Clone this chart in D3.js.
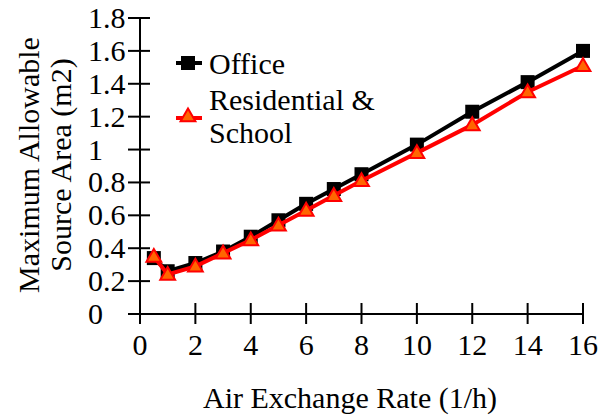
<!DOCTYPE html>
<html lang="en">
<head>
  <meta charset="UTF-8">
  <title>Maximum Allowable Source Area</title>
  <style>
    body { margin: 0; background: #fff; }
  </style>
</head>
<body>
  <svg width="601" height="417"></svg>
  <script src="https://d3js.org/d3.v7.min.js"></script>
  <script>

  var rates = [0.5, 1, 2, 3, 4, 5, 6, 7, 8, 10, 12, 14, 16];
  var office = [0.34, 0.26, 0.31, 0.38, 0.47, 0.57, 0.67, 0.76, 0.85, 1.03, 1.23, 1.41, 1.60];
  var residential = [0.35, 0.24, 0.29, 0.37, 0.45, 0.54, 0.63, 0.72, 0.81, 0.98, 1.15, 1.35, 1.51];
  var xTicks = [0, 2, 4, 6, 8, 10, 12, 14, 16];
  var yTicks = [0, 0.2, 0.4, 0.6, 0.8, 1, 1.2, 1.4, 1.6, 1.8];

  var svg = d3.select('svg')
    .attr('font-family', '"Liberation Serif", "Times New Roman", serif');
  var fs = 30;

  var x = d3.scaleLinear().domain([0, 16]).range([140, 583]);
  var y = d3.scaleLinear().domain([0, 1.8]).range([314, 18]);

  var axes = svg.append('g').attr('stroke', '#000').attr('stroke-width', 2);

  // axis lines
  axes.append('line').attr('x1', x(0)).attr('x2', x(16)).attr('y1', y(0)).attr('y2', y(0));
  axes.append('line').attr('x1', x(0)).attr('x2', x(0)).attr('y1', y(0) + 10).attr('y2', y(1.8));

  // cross ticks
  axes.selectAll('.xt').data(xTicks).enter().append('line')
    .attr('x1', function(d) { return x(d); }).attr('x2', function(d) { return x(d); })
    .attr('y1', y(0) - 11).attr('y2', y(0) + 10);
  axes.selectAll('.yt').data(yTicks).enter().append('line')
    .attr('x1', x(0) - 12).attr('x2', x(0) + 10)
    .attr('y1', function(d) { return y(d); }).attr('y2', function(d) { return y(d); });

  svg.selectAll('.xl').data(xTicks).enter().append('text')
    .attr('x', function(d) { return x(d); })
    .attr('y', 355)
    .attr('text-anchor', 'middle')
    .attr('font-size', fs)
    .text(function(d) { return d; });

  // y tick labels are left aligned in the original
  svg.selectAll('.yl').data(yTicks).enter().append('text')
    .attr('x', 88)
    .attr('y', function(d) { return y(d) + 10; })
    .attr('font-size', fs)
    .text(function(d) { return d; });

  svg.append('text')
    .attr('x', 350).attr('y', 408)
    .attr('text-anchor', 'middle').attr('font-size', fs)
    .text('Air Exchange Rate (1/h)');

  var yt = svg.append('text')
    .attr('transform', 'translate(0,165) rotate(-90)')
    .attr('text-anchor', 'middle').attr('font-size', fs);
  yt.append('tspan').attr('x', 0).attr('y', 39).text('Maximum Allowable');
  yt.append('tspan').attr('x', 0).attr('y', 71).text('Source Area (m2)');

  var line = d3.line()
    .x(function(d, i) { return x(rates[i]); })
    .y(function(d) { return y(d); });

  var tri = d3.symbol().type(d3.symbolTriangle).size(95);

  // office series
  svg.append('path').datum(office)
    .attr('d', line).attr('fill', 'none').attr('stroke', '#000').attr('stroke-width', 4);
  svg.selectAll('.sq').data(office).enter().append('rect')
    .attr('x', function(d, i) { return x(rates[i]) - 7; })
    .attr('y', function(d) { return y(d) - 7; })
    .attr('width', 14).attr('height', 14).attr('fill', '#000');

  // residential & school series
  svg.append('path').datum(residential)
    .attr('d', line).attr('fill', 'none').attr('stroke', '#ff0000').attr('stroke-width', 4);
  svg.selectAll('.tr').data(residential).enter().append('path')
    .attr('d', tri)
    .attr('transform', function(d, i) { return 'translate(' + x(rates[i]) + ',' + (y(d) + 1) + ')'; })
    .attr('fill', '#ff6600').attr('stroke', '#ff0000').attr('stroke-width', 2);

  // legend
  var lg = svg.append('g');
  lg.append('line').attr('x1', 176).attr('x2', 202).attr('y1', 63).attr('y2', 63)
    .attr('stroke', '#000').attr('stroke-width', 4);
  lg.append('rect').attr('x', 181).attr('y', 56).attr('width', 14).attr('height', 14).attr('fill', '#000');
  lg.append('text').attr('x', 209).attr('y', 74).attr('font-size', fs).text('Office');

  lg.append('line').attr('x1', 176).attr('x2', 202).attr('y1', 118).attr('y2', 118)
    .attr('stroke', '#ff0000').attr('stroke-width', 4);
  lg.append('path').attr('d', tri).attr('transform', 'translate(188,117)')
    .attr('fill', '#ff6600').attr('stroke', '#ff0000').attr('stroke-width', 2);
  lg.append('text').attr('x', 209).attr('y', 110).attr('font-size', fs).text('Residential &');
  lg.append('text').attr('x', 209).attr('y', 143).attr('font-size', fs).text('School');

  </script>
</body>
</html>
